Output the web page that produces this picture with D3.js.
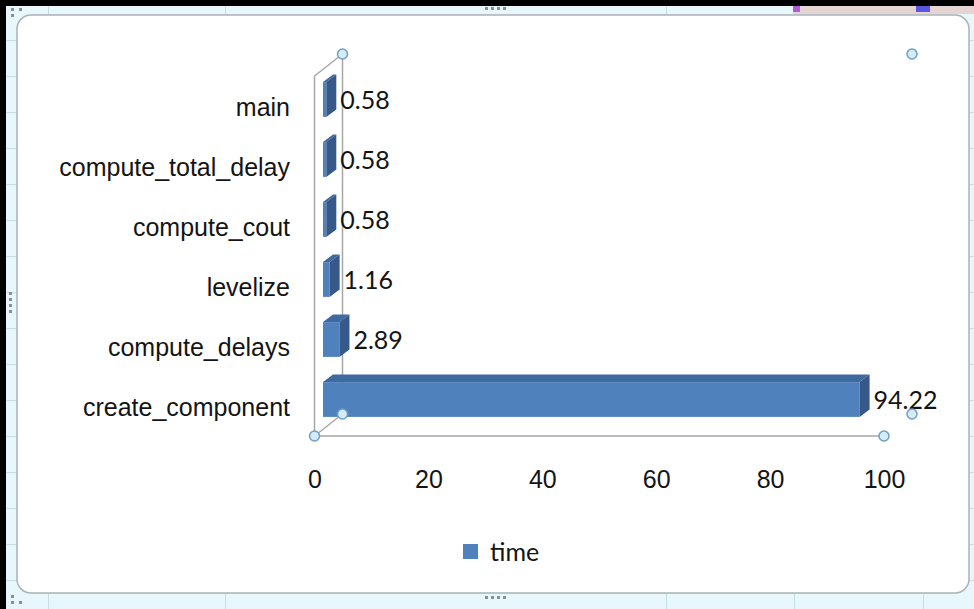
<!DOCTYPE html>
<html>
<head>
<meta charset="utf-8">
<script src="https://cdn.jsdelivr.net/npm/d3@7.9.0/dist/d3.min.js"></script>
<style>
  body { margin: 0; background: #fff; }
  svg { display: block; font-family: Lato, 'Open Sans', sans-serif; }
</style>
</head>
<body>
<svg id="chart" width="974" height="609"></svg>
<script>
// chart data
const categories = ['main', 'compute_total_delay', 'compute_cout', 'levelize', 'compute_delays', 'create_component'];
const timeValues = [0.58, 0.58, 0.58, 1.16, 2.89, 94.22];
const valueTicks = [0, 20, 40, 60, 80, 100];
const seriesName = 'time';

const W = 974, H = 609;
const fontSize = 25;
const textColor = '#141414';
const svg = d3.select('#chart');

// spreadsheet behind the chart object
svg.append('rect').attr('width', W).attr('height', H).attr('fill', '#e8f7fb');
const grid = svg.append('g').attr('stroke', '#c6dde4').attr('stroke-width', 1);
d3.range(40, H, 36).forEach((y) => {
  grid.append('line').attr('x1', 0).attr('x2', W).attr('y1', y + 0.5).attr('y2', y + 0.5);
});
[48, 225, 666, 794, 923].forEach((x) => {
  grid.append('line').attr('x1', x + 0.5).attr('x2', x + 0.5).attr('y1', 0).attr('y2', H);
});
// selected cells strip at the top right
svg.append('rect').attr('x', 793).attr('y', 6).attr('width', W - 793).attr('height', 8).attr('fill', '#e6d4d5');
svg.append('rect').attr('x', 793).attr('y', 6).attr('width', 7).attr('height', 6).attr('fill', '#b45ad6');
svg.append('rect').attr('x', 916).attr('y', 6).attr('width', 14).attr('height', 6).attr('fill', '#5a55e0');

// black window edge
svg.append('rect').attr('x', 0).attr('y', 0).attr('width', W).attr('height', 6).attr('fill', '#000');
svg.append('rect').attr('x', 0).attr('y', 0).attr('width', 6).attr('height', H).attr('fill', '#000');

// chart area
svg.append('rect')
  .attr('x', 17).attr('y', 15).attr('width', 952).attr('height', 578)
  .attr('rx', 14)
  .attr('fill', '#fff')
  .attr('stroke', '#a9b3b6')
  .attr('stroke-width', 1.5);

// resize handles of the chart object
const handles = svg.append('g').attr('fill', '#8a8f92');
[485, 491, 497, 503].forEach((x) => {
  handles.append('rect').attr('x', x).attr('y', 7).attr('width', 3).attr('height', 3);
  handles.append('rect').attr('x', x).attr('y', 596).attr('width', 3).attr('height', 3);
});
[292, 298, 304, 310].forEach((y) => {
  handles.append('rect').attr('x', 9).attr('y', y).attr('width', 3).attr('height', 3);
});
[[11, 8], [19, 8], [11, 14], [11, 595], [11, 601], [19, 601]].forEach(([x, y]) => {
  handles.append('rect').attr('x', x).attr('y', y).attr('width', 3).attr('height', 3);
});

// scales
const xScale = d3.scaleLinear().domain([0, 100]).range([314.5, 884]);
const yScale = d3.scaleBand().domain(categories).range([76, 436])
  .paddingInner(0.42).paddingOuter(0.21);
const depth = { x: 28, y: -22 };       // full depth of the 3d plot box
const barFront = { x: 8.5, y: -6.5 };  // where a bar's front face sits
const barDepth = { x: 10, y: -7.5 };   // thickness of a bar
const bw = yScale.bandwidth();

// 3d plot box walls
const walls = svg.append('g').attr('stroke', '#a6a6a6').attr('stroke-width', 1.5).attr('fill', 'none');
const x0 = xScale(0), y0 = 436, yTop = 76;
walls.append('path').attr('d',
  `M${x0},${y0}V${yTop}L${x0 + depth.x},${yTop + depth.y}V${y0 + depth.y}L${x0},${y0}` +
  `M${x0},${y0}H${xScale(100)}`);

// bars
const data = categories.map((c, i) => ({ name: c, value: timeValues[i] }));
const bars = svg.append('g').selectAll('g').data(data).join('g');

bars.each(function (d) {
  const g = d3.select(this);
  const left = xScale(0) + barFront.x;
  const right = xScale(d.value) + barFront.x;
  const top = yScale(d.name) + barFront.y;
  const bottom = top + bw;
  const dx = barDepth.x, dy = barDepth.y;
  // top face
  g.append('path')
    .attr('d', `M${left},${top}L${left + dx},${top + dy}H${right + dx}L${right},${top}Z`)
    .attr('fill', '#3f6aa0');
  // front face
  g.append('rect')
    .attr('x', left).attr('y', top)
    .attr('width', right - left).attr('height', bw)
    .attr('fill', '#4f81bd');
  // right side
  g.append('path')
    .attr('d', `M${right},${top}L${right + dx},${top + dy}V${bottom + dy}L${right},${bottom}Z`)
    .attr('fill', '#36598a');
});

// value labels
svg.append('g').selectAll('text').data(data).join('text')
  .attr('x', (d) => xScale(d.value) + barFront.x + barDepth.x + 4)
  .attr('y', (d) => yScale(d.name) + barFront.y + bw / 2 + 1)
  .attr('dy', '0.35em')
  .attr('font-size', fontSize)
  .attr('fill', textColor)
  .text((d) => d.value);

// category axis
const yAxis = svg.append('g')
  .attr('transform', 'translate(290,2)')
  .call(d3.axisLeft(yScale).tickSize(0).tickPadding(0));
yAxis.select('.domain').remove();
yAxis.selectAll('text').attr('font-size', fontSize).attr('fill', textColor).attr('font-family', null);

// value axis
const xAxis = svg.append('g')
  .attr('transform', 'translate(0,470)')
  .call(d3.axisBottom(xScale).tickValues(valueTicks).tickSize(0).tickPadding(0));
xAxis.select('.domain').remove();
xAxis.selectAll('text').attr('font-size', fontSize).attr('fill', textColor).attr('font-family', null);

// selection markers of the plot area
const corners = [
  [xScale(0), y0], [xScale(100), y0],
  [xScale(0) + depth.x, yTop + depth.y], [xScale(100) + depth.x, yTop + depth.y],
  [xScale(0) + depth.x, y0 + depth.y], [xScale(100) + depth.x, y0 + depth.y]
];
svg.append('g').selectAll('circle').data(corners).join('circle')
  .attr('cx', (d) => d[0]).attr('cy', (d) => d[1]).attr('r', 5)
  .attr('fill', '#d5ecf6').attr('stroke', '#6f9ec6').attr('stroke-width', 1.5);

// legend
const legend = svg.append('g').attr('transform', 'translate(463,544)');
legend.append('rect').attr('width', 15).attr('height', 15).attr('fill', '#4f81bd');
legend.append('text').attr('x', 27).attr('y', 8).attr('dy', '0.35em')
  .attr('font-size', fontSize).attr('fill', textColor).text(seriesName);
</script>
</body>
</html>
